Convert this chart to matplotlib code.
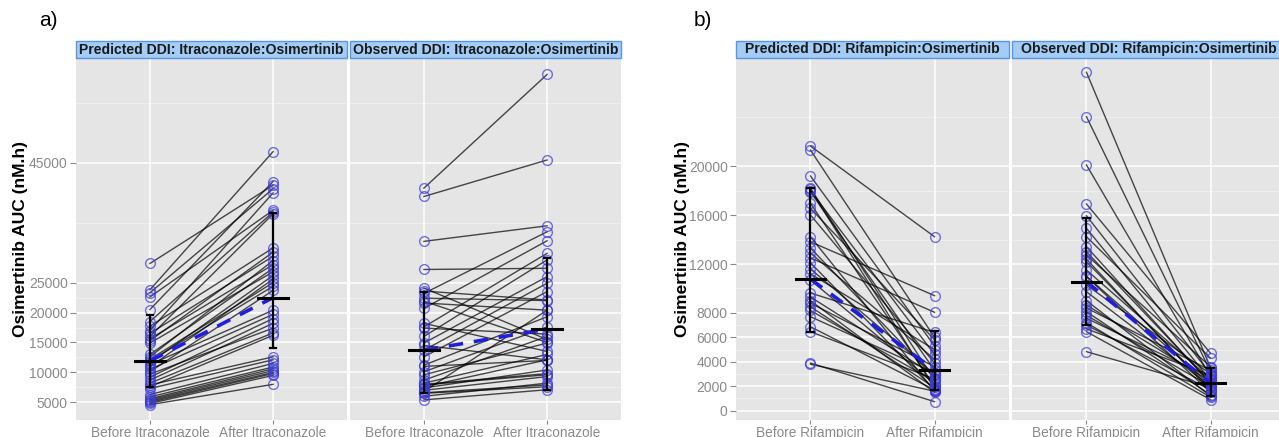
import matplotlib
matplotlib.use("Agg")
from matplotlib import pyplot as plt
from matplotlib.patches import Rectangle

plt.rcParams["font.family"] = ["Liberation Sans", "DejaVu Sans"]

# ---- data (AUC, nM.h) ----
# a) itraconazole, predicted: before -> after (paired)
itra_pred_before = [28200, 23800, 23300, 22600, 20500, 18500, 17700, 17000, 16500, 16000,
                    15600, 15300, 14900, 13000, 12600, 12200, 11900, 11600, 11300, 10900,
                    10500, 10100, 9700, 9200, 8700, 8200, 7900, 7600, 7300, 6300,
                    5900, 5600, 5400, 5200, 5000, 4800, 4600]
itra_pred_after = [41300, 46900, 40700, 37100, 41900, 36800, 30800, 40000, 29400, 36500,
                   28000, 30100, 26800, 27400, 28700, 25000, 24400, 26200, 20400, 25600,
                   19700, 23700, 17400, 19000, 18200, 16600, 12600, 16200, 12100, 11500,
                   10900, 10600, 10300, 10000, 9800, 9500, 8000]
# a) itraconazole, observed
itra_obs_before = [40800, 39400, 31900, 27200, 24100, 23600, 23200, 22400, 21900, 21600,
                   20700, 18200, 17600, 17400, 16000, 14900, 14500, 13700, 12600, 11200,
                   11000, 10100, 9600, 8700, 8200, 8000, 7900, 7600, 7400, 7000,
                   6800, 6600, 6500, 6000, 5400]
itra_obs_after = [59800, 45500, 34500, 27400, 15500, 22100, 33500, 22000, 15000, 20400,
                  32000, 13500, 29900, 16400, 28800, 26000, 12100, 24900, 23500, 19300,
                  12000, 17600, 14900, 16000, 13000, 9800, 9600, 12100, 10400, 9300,
                  20400, 7900, 7600, 8200, 7100]
# b) rifampicin, predicted
rif_pred_before = [21650, 21320, 19200, 18200, 18100, 18000, 17900, 16960, 16560, 16010,
                   14230, 13820, 13310, 12900, 12500, 12100, 11600, 11200, 10690, 9630,
                   9300, 9000, 8800, 8500, 8200, 7690, 6870, 6460, 3900, 3800]
rif_pred_after = [14230, 6000, 5300, 2500, 1800, 4600, 3300, 2000, 5800, 3900,
                  1600, 9410, 2700, 4200, 8050, 1700, 3000, 5000, 2200, 6400,
                  2900, 1500, 3600, 1900, 2400, 3100, 1700, 2600, 740, 1600]
# b) rifampicin, observed
rif_obs_before = [27680, 24050, 20100, 16910, 15950, 14920, 14230, 13420, 13000, 12740,
                  12400, 12190, 11510, 11000, 10960, 10280, 9730, 9000, 8650, 8400,
                  8100, 7800, 7560, 7200, 7010, 6700, 6460, 4830]
rif_obs_after = [3500, 3200, 2800, 4700, 3000, 2500, 4290, 2200, 2300, 3600,
                 1600, 1800, 2600, 2100, 1500, 3000, 2000, 1200, 2400, 3300,
                 1300, 2000, 2700, 1100, 1700, 2900, 900, 1900]

# summary marks: mean and bar ends (before, after)
itra_pred_mean = [11900, 22500]
itra_pred_bar = [(7600, 19600), (14100, 36600)]
itra_obs_mean = [13700, 17250]
itra_obs_bar = [(6500, 23500), (7000, 29100)]
rif_pred_mean = [10770, 3330]
rif_pred_bar = [(6460, 18190), (1690, 6520)]
rif_obs_mean = [10550, 2240]
rif_obs_bar = [(7010, 15740), (1200, 3500)]

itra_labels = ["Before Itraconazole", "After Itraconazole"]
rif_labels = ["Before Rifampicin", "After Rifampicin"]
itra_ticks = [5000, 10000, 15000, 20000, 25000, 45000]
itra_minor = [7500, 12500, 17500, 22500, 35000, 55000]
rif_ticks = [0, 2000, 4000, 6000, 8000, 12000, 16000, 20000]
rif_minor = [1000, 3000, 5000, 7000, 10000, 14000, 18000, 24000]

W, H = 1279, 437
fig = plt.figure(figsize=(W / 100, H / 100), dpi=100)

PANEL_BG = "#e5e5e5"
STRIP_BG = "#a3cdf6"
STRIP_EDGE = "#5b95e0"
TICK_GREY = "#8a8a8a"


def px_axes(x0, x1, y0=58, y1=420):
    return fig.add_axes([x0 / W, 1 - y1 / H, (x1 - x0) / W, (y1 - y0) / H])


def strip(x0, x1, title, y0=41, y1=58):
    fig.patches.append(Rectangle((x0 / W, 1 - y1 / H), (x1 - x0) / W, (y1 - y0) / H,
                                 transform=fig.transFigure, facecolor=STRIP_BG,
                                 edgecolor=STRIP_EDGE, linewidth=1.0, zorder=0))
    fig.text((x0 + x1) / 2 / W, 1 - (y0 + y1) / 2 / H, title, ha="center", va="center",
             fontsize=10.1, fontweight="bold", color="#1a1a1a")


def panel(ax, before, after, mean, bar, labels, ylim, ticks, minor, show_y):
    ax.set_facecolor(PANEL_BG)
    for s in ax.spines.values():
        s.set_visible(False)
    ax.set_xlim(-0.6, 1.6)
    ax.set_ylim(*ylim)
    for m in minor:
        ax.axhline(m, color="#f2f2f2", lw=0.6, zorder=0)
    for t in ticks:
        ax.axhline(t, color="white", lw=1.1, zorder=0)
    for xv in (0, 1):
        ax.axvline(xv, color="white", lw=1.1, zorder=0)
    for b, a in zip(before, after):
        ax.plot([0, 1], [b, a], color="black", lw=1.0, alpha=0.7, zorder=2)
    ax.plot([0] * len(before), before, "o", mfc="none", mec="#3a3ad6", mew=1.0,
            ms=7, alpha=0.7, zorder=3)
    ax.plot([1] * len(after), after, "o", mfc="none", mec="#3a3ad6", mew=1.0,
            ms=7, alpha=0.7, zorder=3)
    ax.plot([0, 1], mean, color="#1f1fe0", lw=2.6, ls=(0, (4, 3)), zorder=4)
    for xv, (lo, hi), mv in zip((0, 1), bar, mean):
        ax.plot([xv, xv], [lo, hi], color="black", lw=1.6, zorder=5)
        ax.plot([xv - 0.025, xv + 0.025], [lo, lo], color="black", lw=1.6, zorder=5)
        ax.plot([xv - 0.025, xv + 0.025], [hi, hi], color="black", lw=1.6, zorder=5)
        ax.plot([xv - 0.12, xv + 0.12], [mv, mv], color="black", lw=2.2, zorder=5)
    ax.set_xticks([0, 1])
    ax.set_xticklabels(labels, fontsize=9.8, color=TICK_GREY)
    ax.tick_params(axis="x", length=3, width=0.8, color=TICK_GREY, pad=1)
    ax.set_yticks(ticks)
    if show_y:
        ax.set_yticklabels([str(t) for t in ticks], fontsize=10, color=TICK_GREY)
        ax.tick_params(axis="y", length=4, width=0.8, color=TICK_GREY, pad=2)
    else:
        ax.tick_params(axis="y", length=0, labelleft=False)


# ---- a) itraconazole ----
ylim_a = (2040, 62550)
ax1 = px_axes(76, 347)
panel(ax1, itra_pred_before, itra_pred_after, itra_pred_mean, itra_pred_bar,
      itra_labels, ylim_a, itra_ticks, itra_minor, True)
ax2 = px_axes(350, 621)
panel(ax2, itra_obs_before, itra_obs_after, itra_obs_mean, itra_obs_bar,
      itra_labels, ylim_a, itra_ticks, itra_minor, False)
strip(76, 347, "Predicted DDI: Itraconazole:Osimertinib")
strip(350, 621, "Observed DDI: Itraconazole:Osimertinib")
ax1.set_ylabel("Osimertinib AUC (nM.h)", fontsize=12.5, fontweight="bold")
ax1.yaxis.set_label_coords(-(76 - 28) / 271, 0.5)

# ---- b) rifampicin ----
ylim_b = (-760, 28850)
ax3 = px_axes(736, 1009)
panel(ax3, rif_pred_before, rif_pred_after, rif_pred_mean, rif_pred_bar,
      rif_labels, ylim_b, rif_ticks, rif_minor, True)
ax4 = px_axes(1012, 1285)
panel(ax4, rif_obs_before, rif_obs_after, rif_obs_mean, rif_obs_bar,
      rif_labels, ylim_b, rif_ticks, rif_minor, False)
strip(736, 1009, "Predicted DDI: Rifampicin:Osimertinib")
strip(1012, 1285, "Observed DDI: Rifampicin:Osimertinib")
ax3.set_ylabel("Osimertinib AUC (nM.h)", fontsize=12.5, fontweight="bold")
ax3.yaxis.set_label_coords(-(736 - 690) / 273, 0.5)

fig.text(48 / W, 1 - 20 / H, "a)", fontsize=15, ha="center", va="center")
fig.text(703 / W, 1 - 20 / H, "b)", fontsize=15, ha="center", va="center")

fig.savefig("out.png", dpi=100)
